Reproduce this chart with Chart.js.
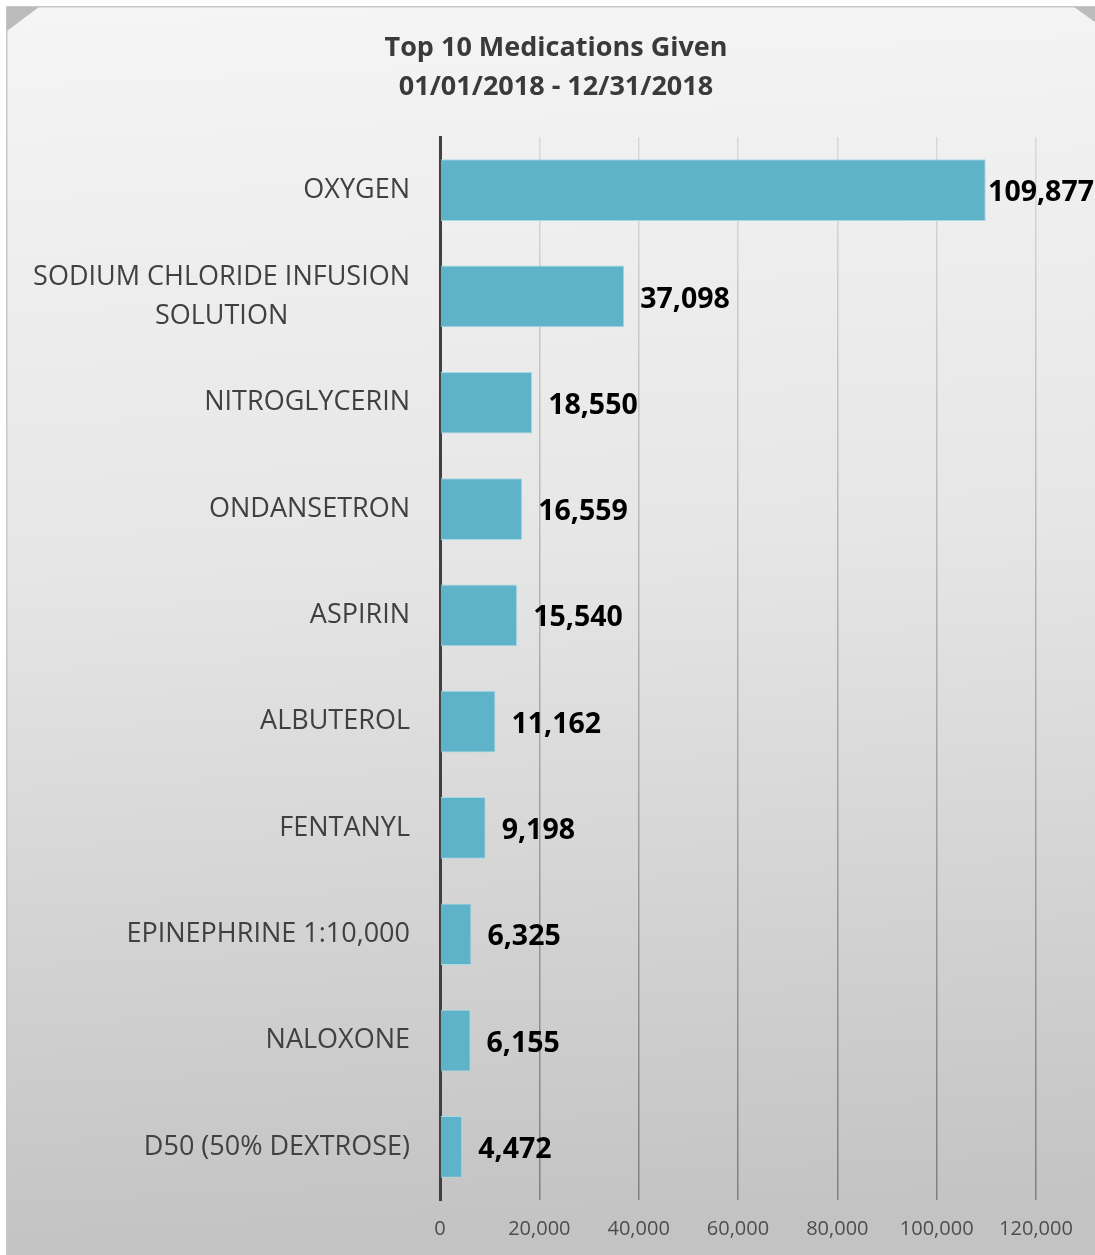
<!DOCTYPE html>
<html><head><meta charset="utf-8">
<script src="https://cdn.jsdelivr.net/npm/chart.js@4.4.1/dist/chart.umd.min.js"></script>
<style>html,body{margin:0;padding:0;background:#fff;overflow:hidden}</style>
</head><body>
<canvas id="c" width="1095" height="1255"></canvas>
<script>
const categories = [
  ["OXYGEN"],
  ["SODIUM CHLORIDE INFUSION", "SOLUTION"],
  ["NITROGLYCERIN"],
  ["ONDANSETRON"],
  ["ASPIRIN"],
  ["ALBUTEROL"],
  ["FENTANYL"],
  ["EPINEPHRINE 1:10,000"],
  ["NALOXONE"],
  ["D50 (50% DEXTROSE)"]
];
const values = [109877, 37098, 18550, 16559, 15540, 11162, 9198, 6325, 6155, 4472];
const xTickValues = [0, 20000, 40000, 60000, 80000, 100000, 120000];
const titleLines = ["Top 10 Medications Given", "01/01/2018 - 12/31/2018"];

const FONT = "'Open Sans', 'DejaVu Sans', sans-serif";
const canvas = document.getElementById('c');
const ctx0 = canvas.getContext('2d');
const gridGrad = ctx0.createLinearGradient(0, 137, 0, 1200);
gridGrad.addColorStop(0, '#d9d9d9');
gridGrad.addColorStop(1, '#7f7f7f');

const bgPlugin = {
  id: 'bg',
  beforeDraw(chart) {
    const c = chart.ctx, W = chart.width, H = chart.height;
    c.save();
    c.fillStyle = '#ffffff';
    c.fillRect(0, 0, W, H);
    const g = c.createLinearGradient(0, 6, 60, H);
    g.addColorStop(0, '#f5f5f5');
    g.addColorStop(0.45, '#e6e6e6');
    g.addColorStop(1, '#c3c3c3');
    c.fillStyle = g;
    c.fillRect(6, 6, W - 6, H - 6);
    c.fillStyle = '#c8c8c8';
    c.fillRect(6, 6, W - 6, 1.5);
    c.fillRect(6, 6, 1.5, H - 6);
    c.fillStyle = '#bcbcbc';
    c.beginPath(); c.moveTo(7, 7); c.lineTo(39, 7); c.lineTo(7, 31); c.closePath(); c.fill();
    c.beginPath(); c.moveTo(1074, 7); c.lineTo(W, 7); c.lineTo(W, 22); c.closePath(); c.fill();
    // title
    c.fillStyle = '#3a3a3a';
    c.font = "bold 27px " + FONT;
    c.textAlign = 'center';
    c.textBaseline = 'middle';
    c.fillText(titleLines[0], 556, 48);
    c.fillText(titleLines[1], 556, 87);
    c.restore();
  }
};

const labelPlugin = {
  id: 'labels',
  afterDatasetsDraw(chart) {
    const c = chart.ctx;
    const yS = chart.scales.y;
    c.save();
    // category labels
    c.font = "27px " + FONT;
    c.fillStyle = '#404040';
    c.textBaseline = 'middle';
    categories.forEach((lines, i) => {
      const y = yS.getPixelForValue(i);
      const lh = 39;
      const widths = lines.map(t => c.measureText(t).width);
      const w = Math.max(...widths);
      c.textAlign = 'center';
      lines.forEach((t, j) => {
        const ly = y + (j - (lines.length - 1) / 2) * lh;
        c.fillText(t, 410 - w / 2, ly);
      });
    });
    // value labels
    c.font = "bold 28.5px " + FONT;
    c.fillStyle = '#000000';
    c.textAlign = 'left';
    const meta = chart.getDatasetMeta(0);
    meta.data.forEach((bar, i) => {
      const txt = values[i].toLocaleString('en-US');
      const tw = c.measureText(txt).width;
      const x = Math.min(bar.x + 16, chart.width - tw - 1);
      c.fillText(txt, x, bar.y + 3);
    });
    c.restore();
  }
};

new Chart(canvas, {
  type: 'bar',
  data: {
    labels: categories,
    datasets: [{
      data: values,
      backgroundColor: '#5fb3c9',
      borderColor: '#a6d8e6',
      borderWidth: 1,
      barPercentage: 0.58,
      categoryPercentage: 1.0
    }]
  },
  options: {
    indexAxis: 'y',
    responsive: false,
    animation: false,
    devicePixelRatio: 1,
    layout: { padding: { top: 137, right: 59, left: 0, bottom: 0 } },
    plugins: { legend: { display: false }, tooltip: { enabled: false }, title: { display: false } },
    scales: {
      x: {
        min: 0, max: 120000,
        afterBuildTicks(s) { s.ticks = xTickValues.map(v => ({ value: v })); },
        afterFit(s) { s.height = 55; },
        ticks: {
          font: { family: FONT, size: 20 },
          color: '#4d4d4d',
          padding: 17,
          maxRotation: 0,
          autoSkip: false,
          callback: v => Number(v).toLocaleString('en-US')
        },
        grid: { color: gridGrad, lineWidth: 1.5, drawTicks: false },
        border: { display: false }
      },
      y: {
        afterFit(s) { s.width = 440; },
        ticks: { display: false },
        grid: { display: false, drawTicks: false },
        border: { display: true, color: '#404040', width: 3 }
      }
    }
  },
  plugins: [bgPlugin, labelPlugin]
});
</script>
</body></html>
